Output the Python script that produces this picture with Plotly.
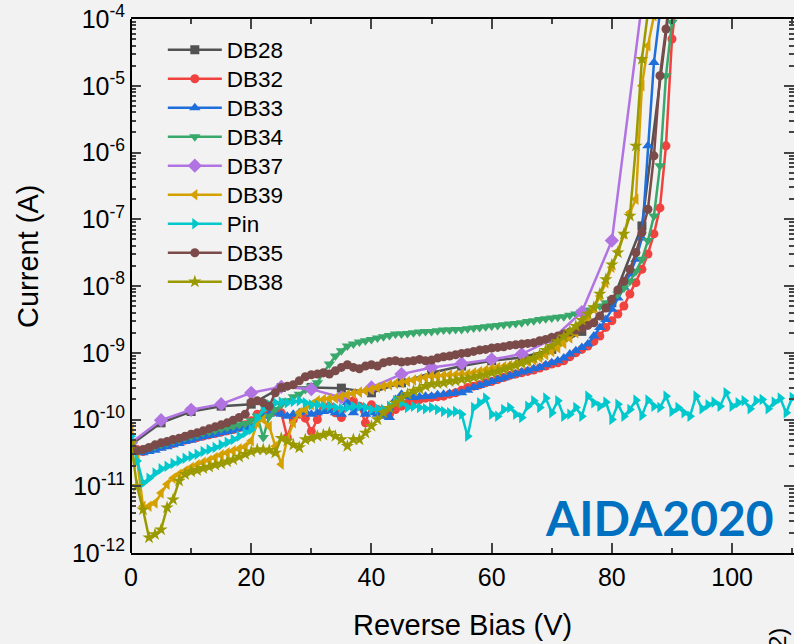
import plotly.graph_objects as go

# ---------------- data (log10 of current in A) -------------
V = list(range(0, 112))                     # 1 V step sweeps
V5 = [0, 5, 10, 15, 20, 25, 30, 35, 40, 45, 50, 55, 60, 65, 70, 75, 80, 85, 90]  # 5 V sweeps

db28_log = [-10.38, -10.05, -9.88, -9.80, -9.77, -9.52, -9.52, -9.53, -9.60, -9.45,
            -9.30, -9.20, -9.12, -9.07, -8.95, -8.68, -8.25, -7.10, -3.50]

db37_log = [-10.35, -10.01, -9.855, -9.77, -9.60, -9.51, -9.545, -9.67, -9.52, -9.32,
            -9.22, -9.16, -9.10, -9.02, -8.80, -8.39, -7.32, -3.77]

db32_log = [-10.42, -10.45, -10.48, -10.45, -10.42, -10.40, -10.38, -10.36, -10.33, -10.31,
            -10.29, -10.27, -10.25, -10.23, -10.21, -10.19, -10.17, -10.15, -10.12, -10.08,
            -10.02, -9.92, -9.90, -9.87, -9.88, -9.90, -10.27, -10.00, -9.92, -9.98,
            -10.18, -10.00, -9.85, -9.80, -9.90, -9.97, -9.72, -9.72, -9.80, -10.05,
            -9.78, -9.85, -9.90, -9.92, -9.85, -9.80, -9.76, -9.72, -9.70, -9.68,
            -9.67, -9.66, -9.65, -9.62, -9.60, -9.56, -9.52, -9.50, -9.48, -9.45,
            -9.43, -9.40, -9.37, -9.34, -9.32, -9.30, -9.28, -9.26, -9.23, -9.20,
            -9.17, -9.15, -9.12, -9.06, -9.00, -8.95, -8.90, -8.83, -8.75, -8.62,
            -8.52, -8.42, -8.30, -8.12, -7.95, -7.75, -7.52, -7.22, -6.83, -5.90,
            -4.30, -3.50]

db33_log = [-10.42, -10.48, -10.50, -10.48, -10.46, -10.43, -10.41, -10.38, -10.36, -10.33,
            -10.31, -10.28, -10.26, -10.24, -10.22, -10.20, -10.18, -10.16, -10.14, -10.12,
            -10.10, -10.00, -9.95, -9.92, -9.90, -9.92, -9.95, -9.92, -9.90, -9.88,
            -9.92, -9.90, -9.88, -9.87, -9.90, -9.92, -9.75, -9.90, -9.82, -9.92,
            -9.90, -9.92, -9.95, -9.97, -9.70, -9.62, -9.66, -9.67, -9.66, -9.65,
            -9.65, -9.63, -9.62, -9.61, -9.60, -9.60, -9.56, -9.52, -9.49, -9.46,
            -9.43, -9.40, -9.38, -9.35, -9.32, -9.29, -9.27, -9.24, -9.22, -9.18,
            -9.15, -9.12, -9.08, -9.02, -8.97, -8.92, -8.87, -8.75, -8.62, -8.50,
            -8.35, -8.18, -8.02, -7.82, -7.60, -7.28, -5.90, -4.65, -3.90]

db34_log = [-10.42, -10.46, -10.45, -10.42, -10.40, -10.37, -10.35, -10.32, -10.30, -10.27,
            -10.25, -10.23, -10.20, -10.18, -10.16, -10.14, -10.12, -10.10, -10.08, -10.06,
            -10.02, -9.95, -10.27, -9.95, -9.85, -9.78, -9.72, -9.66, -9.62, -9.55,
            -9.50, -9.45, -9.30, -9.17, -9.05, -8.97, -8.90, -8.87, -8.84, -8.82,
            -8.80, -8.78, -8.76, -8.74, -8.72, -8.72, -8.71, -8.70, -8.69, -8.68,
            -8.68, -8.67, -8.66, -8.66, -8.65, -8.65, -8.64, -8.63, -8.62, -8.61,
            -8.60, -8.59, -8.58, -8.57, -8.56, -8.55, -8.53, -8.52, -8.50, -8.49,
            -8.48, -8.47, -8.46, -8.44, -8.42, -8.39, -8.36, -8.33, -8.30, -8.25,
            -8.20, -8.12, -8.03, -7.93, -7.78, -7.60, -7.32, -6.95, -6.20, -4.85,
            -4.05, -3.30]

db39_log = [-10.15, -10.60, -11.30, -11.30, -11.25, -11.10, -10.97, -10.88, -10.82, -10.77,
            -10.72, -10.68, -10.64, -10.61, -10.57, -10.53, -10.50, -10.47, -10.44, -10.41,
            -10.32, -10.05, -10.00, -10.10, -10.40, -10.67, -10.30, -10.05, -9.90, -9.85,
            -9.78, -9.72, -9.70, -9.69, -9.68, -9.66, -9.63, -9.61, -9.59, -9.57,
            -9.55, -9.52, -9.50, -9.48, -9.46, -9.45, -9.43, -9.41, -9.39, -9.37,
            -9.35, -9.35, -9.34, -9.33, -9.33, -9.32, -9.32, -9.30, -9.28, -9.26,
            -9.24, -9.22, -9.21, -9.19, -9.17, -9.15, -9.13, -9.11, -9.07, -9.03,
            -8.98, -8.93, -8.86, -8.78, -8.70, -8.60, -8.48, -8.34, -8.15, -7.95,
            -7.72, -7.48, -7.22, -6.90, -6.70, -5.00, -4.40, -3.95]

pin_log = [-10.25, -10.62, -10.95, -10.88, -10.80, -10.74, -10.70, -10.66, -10.62, -10.58,
           -10.55, -10.52, -10.48, -10.45, -10.42, -10.38, -10.34, -10.30, -10.25, -10.20,
           -10.15, -9.98, -9.85, -9.78, -9.75, -9.74, -9.75, -9.73, -9.72, -9.75,
           -9.78, -9.78, -9.80, -9.80, -9.82, -9.84, -9.82, -9.80, -9.80, -9.82,
           -9.85, -9.84, -9.85, -9.80, -9.72, -9.75, -9.82, -9.80, -9.82, -9.84,
           -9.82, -9.85, -9.88, -9.90, -9.88, -9.92, -10.25, -9.82, -9.75, -9.68,
           -9.92, -9.95, -9.85, -9.82, -9.92, -9.97, -9.80, -9.72, -9.82, -9.68,
           -9.90, -9.72, -9.95, -9.92, -9.82, -9.95, -9.65, -9.75, -9.80, -9.74,
           -10.00, -9.77, -9.95, -9.85, -9.71, -9.94, -9.71, -9.80, -9.82, -9.65,
           -9.88, -9.82, -9.90, -9.95, -9.65, -9.84, -9.78, -9.74, -9.80, -9.60,
           -9.80, -9.75, -9.72, -9.84, -9.72, -9.70, -9.84, -9.74, -9.68, -9.90,
           -9.67, -9.75]

db35_log = [-10.42, -10.47, -10.45, -10.42, -10.38, -10.35, -10.33, -10.30, -10.28, -10.25,
            -10.22, -10.20, -10.17, -10.14, -10.11, -10.08, -10.05, -10.01, -9.97, -9.92,
            -9.74, -9.72, -9.75, -9.80, -9.60, -9.52, -9.50, -9.48, -9.42, -9.36,
            -9.33, -9.32, -9.30, -9.32, -9.27, -9.22, -9.18, -9.22, -9.24, -9.20,
            -9.18, -9.20, -9.15, -9.13, -9.12, -9.14, -9.13, -9.12, -9.10, -9.12,
            -9.11, -9.08, -9.06, -9.05, -9.03, -9.01, -9.00, -8.98, -8.96, -8.95,
            -8.93, -8.92, -8.91, -8.89, -8.88, -8.87, -8.86, -8.85, -8.82, -8.80,
            -8.77, -8.75, -8.72, -8.69, -8.66, -8.63, -8.59, -8.55, -8.45, -8.33,
            -8.20, -8.06, -7.93, -7.75, -7.50, -7.20, -6.85, -6.05, -4.85, -4.15,
            -3.40]

db38_log = [-10.35, -11.00, -11.35, -11.77, -11.72, -11.65, -11.32, -11.20, -10.92, -10.82,
            -10.78, -10.76, -10.73, -10.71, -10.68, -10.66, -10.63, -10.60, -10.56, -10.52,
            -10.48, -10.45, -10.45, -10.46, -10.50, -10.28, -10.32, -10.38, -10.42, -10.30,
            -10.28, -10.25, -10.23, -10.20, -10.25, -10.30, -10.40, -10.30, -10.30, -10.20,
            -10.10, -10.00, -9.90, -9.83, -9.75, -9.68, -9.62, -9.57, -9.54, -9.50,
            -9.47, -9.46, -9.45, -9.43, -9.42, -9.40, -9.39, -9.37, -9.35, -9.33,
            -9.30, -9.28, -9.25, -9.22, -9.19, -9.15, -9.12, -9.08, -9.03, -8.96,
            -8.90, -8.83, -8.76, -8.68, -8.60, -8.51, -8.42, -8.32, -8.12, -7.90,
            -7.68, -7.50, -7.22, -6.95, -5.90, -4.60, -3.90]

y_tickvals = [1e-12, 1e-11, 1e-10, 1e-9, 1e-8, 1e-7, 1e-6, 1e-5, 1e-4]
y_ticktext = ["10<sup>-12</sup>", "10<sup>-11</sup>", "10<sup>-10</sup>", "10<sup>-9</sup>",
              "10<sup>-8</sup>", "10<sup>-7</sup>", "10<sup>-6</sup>", "10<sup>-5</sup>",
              "10<sup>-4</sup>"]

# ---------------- series definitions ----------------
series = [
    ("DB28", V5, db28_log, "#525252", "square", 9),
    ("DB32", V, db32_log, "#F0423E", "circle", 9),
    ("DB33", V, db33_log, "#1E6FDB", "triangle-up", 10),
    ("DB34", V, db34_log, "#38A86B", "triangle-down", 10),
    ("DB37", V5, db37_log, "#B273E2", "diamond", 11),
    ("DB39", V, db39_log, "#D4A100", "triangle-left", 10),
    ("Pin", V, pin_log, "#00C8CC", "triangle-right", 10),
    ("DB35", V, db35_log, "#7A4B49", "circle", 9),
    ("DB38", V, db38_log, "#9A9A00", "star", 10),
]

FONT = "Liberation Sans, Arial, sans-serif"

fig = go.Figure()
for name, xs, logs, color, sym, msize in series:
    fig.add_trace(go.Scatter(
        x=xs[:len(logs)],
        y=[10 ** e for e in logs],
        mode="lines+markers",
        name="<span style='font-size:22.5px'>%s</span>" % name,
        legendgroup=name,
        line=dict(color=color, width=2.5),
        marker=dict(symbol=sym, size=msize, color=color, line=dict(width=0)),
    ))

fig.update_layout(
    width=794, height=644,
    margin=dict(l=131, r=0, t=19, b=91),
    paper_bgcolor="#f2f2f2", plot_bgcolor="#f2f2f2",
    font=dict(family=FONT, color="black", size=25),
    showlegend=True,
    legend=dict(x=0.048, y=0.979, xanchor="left", yanchor="top",
                bgcolor="rgba(0,0,0,0)", font=dict(size=20, family=FONT),
                itemwidth=54, tracegroupgap=0),
    xaxis=dict(range=[0, 110.3], showline=True, linecolor="black", linewidth=2,
               mirror="allticks", ticks="inside", ticklen=10, tickwidth=2,
               tick0=0, dtick=20, showgrid=False, zeroline=False,
               ticklabelstandoff=1,
               minor=dict(dtick=10, ticks="inside", ticklen=5, tickwidth=2, showgrid=False)),
    yaxis=dict(type="log", range=[-12, -4], showline=False,
               mirror="allticks", ticks="inside", ticklen=10, tickwidth=2,
               tickvals=y_tickvals, ticktext=y_ticktext, showgrid=False, zeroline=False,
               ticklabelstandoff=5,
               minor=dict(dtick="D1", ticks="inside", ticklen=5, tickwidth=1.5, showgrid=False)),
    shapes=[dict(type="line", xref="paper", yref="paper", x0=0, x1=0, y0=0, y1=1,
                 line=dict(color="black", width=2))],
    annotations=[
        dict(text="Current (A)", xref="paper", yref="paper", x=(28 - 131) / 663, y=(553 - 257) / 534,
             textangle=-90, showarrow=False, xanchor="center", yanchor="middle",
             font=dict(size=29, family=FONT)),
        dict(text="Reverse Bias (V)", xref="paper", yref="paper", x=(462 - 131) / 663, y=(553 - 625) / 534,
             showarrow=False, xanchor="center", yanchor="middle", font=dict(size=29, family=FONT)),
        dict(text="<b>AIDA2020</b>", xref="paper", yref="paper", x=(659 - 131) / 663, y=(553 - 517) / 534,
             showarrow=False, xanchor="center", yanchor="middle",
             font=dict(size=48, family="Lato, Open Sans, sans-serif", color="#0070C0")),
        dict(text="(2)", xref="paper", yref="paper", x=(777 - 131) / 663, y=(553 - 643) / 534,
             textangle=-90, showarrow=False, xanchor="center", yanchor="middle",
             font=dict(size=24, family=FONT)),
    ],
)

fig.write_html("out.html")
